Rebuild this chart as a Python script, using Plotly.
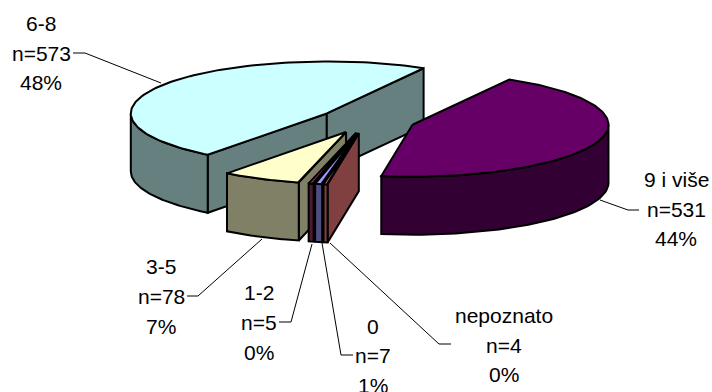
import numpy as np
import plotly.graph_objects as go

# ---- chart data ----
categories = ["9 i više", "nepoznato", "0", "1-2", "3-5", "6-8"]
counts = [531, 4, 7, 5, 78, 573]
percent_labels = ["44%", "0%", "1%", "0%", "7%", "48%"]
top_colors = ["#660066", "#FF8080", "#9999FF", "#993366", "#FFFFCC", "#CCFFFF"]
side_colors = ["#330033", "#804040", "#4D4D80", "#4D1A33", "#808066", "#668080"]
draw_order = ["6-8", "9 i više", "3-5", "1-2", "0", "nepoznato"]

# ---- projection of the tilted pie (axis units = pixels of the page) ----
CX, CY = 367.0, 120.5
RX, RY = 196.0, 52.0
DEPTH = 58.0
EXPLODE = 0.246
START = -60.4

# ---- label layout: centre x and the y of each of the three lines ----
label_x = {"9 i više": 676, "nepoznato": 504, "0": 373, "1-2": 259, "3-5": 161, "6-8": 41}
label_y = {
    "9 i više": [179, 209, 238],
    "nepoznato": [315, 345, 374],
    "0": [326, 355, 385],
    "1-2": [292, 322, 352],
    "3-5": [266, 296, 326],
    "6-8": [23, 53, 82],
}
leaders = {
    "9 i više": ([600, 628, 639], [200, 210, 210], "#000000"),
    "nepoznato": ([330, 439, 451], [243, 344, 344], "#000000"),
    "0": ([322, 341, 353], [243, 355, 355], "#000000"),
    "1-2": ([312, 291, 279], [244, 322, 322], "#000000"),
    "3-5": ([262, 198, 187], [239, 296, 296], "#000000"),
    "6-8": ([161, 85, 73], [83, 53, 53], "#000000"),
}

# ---- slice angles from the values ----
total = sum(counts)
spans = [c / total * 360 for c in counts]
slices = {}
angle = START
for name, span, top, side in zip(categories, spans, top_colors, side_colors):
    t0, t1 = angle, angle + span
    mid = np.radians((t0 + t1) / 2)
    slices[name] = dict(
        t0=t0,
        t1=t1,
        cx=CX + EXPLODE * RX * np.cos(mid),
        cy=CY + EXPLODE * RY * np.sin(mid),
        top=top,
        side=side,
    )
    angle = t1


def rim(s, deg):
    r = np.radians(np.asarray(deg, dtype=float))
    return s["cx"] + RX * np.cos(r), s["cy"] + RY * np.sin(r)


fig = go.Figure()


def poly(xs, ys, color):
    fig.add_trace(
        go.Scatter(
            x=list(xs) + [xs[0]],
            y=list(ys) + [ys[0]],
            mode="lines",
            fill="toself",
            fillcolor=color,
            line=dict(color="#000000", width=2),
            hoverinfo="skip",
            showlegend=False,
        )
    )


def edge_wall(s, deg):
    x, y = rim(s, deg)
    poly([s["cx"], x, x, s["cx"]], [s["cy"], y, y + DEPTH, s["cy"] + DEPTH], s["side"])


for name in draw_order:
    s = slices[name]
    # flat walls that face the viewer
    if np.cos(np.radians(s["t0"])) < 0:
        edge_wall(s, s["t0"])
    if np.cos(np.radians(s["t1"])) > 0:
        edge_wall(s, s["t1"])
    # outer curved wall (front half of the ellipse only)
    a0, a1 = max(s["t0"], 0.0), min(s["t1"], 180.0)
    if a1 > a0:
        arc = np.linspace(a0, a1, 60)
        x, y = rim(s, arc)
        poly(np.r_[x, x[::-1]], np.r_[y, y[::-1] + DEPTH], s["side"])
    # top face
    arc = np.linspace(s["t0"], s["t1"], 120)
    x, y = rim(s, arc)
    poly(np.r_[s["cx"], x], np.r_[s["cy"], y], s["top"])

# leader lines
for name in categories:
    lx, ly, col = leaders[name]
    fig.add_trace(
        go.Scatter(
            x=lx, y=ly, mode="lines", line=dict(color=col, width=1),
            hoverinfo="skip", showlegend=False,
        )
    )

# labels
for name, count, pct in zip(categories, counts, percent_labels):
    lines = [name, f"n={count}", pct]
    for text, y in zip(lines, label_y[name]):
        fig.add_annotation(
            x=label_x[name], y=y, text=text, showarrow=False,
            xanchor="center", yanchor="middle",
            font=dict(family="Liberation Sans, Arial, sans-serif", size=21, color="#000000"),
        )

fig.update_layout(
    width=712,
    height=392,
    margin=dict(l=0, r=0, t=0, b=0),
    paper_bgcolor="#FFFFFF",
    plot_bgcolor="#FFFFFF",
    showlegend=False,
    xaxis=dict(range=[0, 712], visible=False, fixedrange=True),
    yaxis=dict(range=[392, 0], visible=False, fixedrange=True),
)
fig.write_html(
    "out.html",
    config={"displayModeBar": False},
    post_script="document.body.style.margin='0';document.documentElement.style.overflow='hidden';",
)
